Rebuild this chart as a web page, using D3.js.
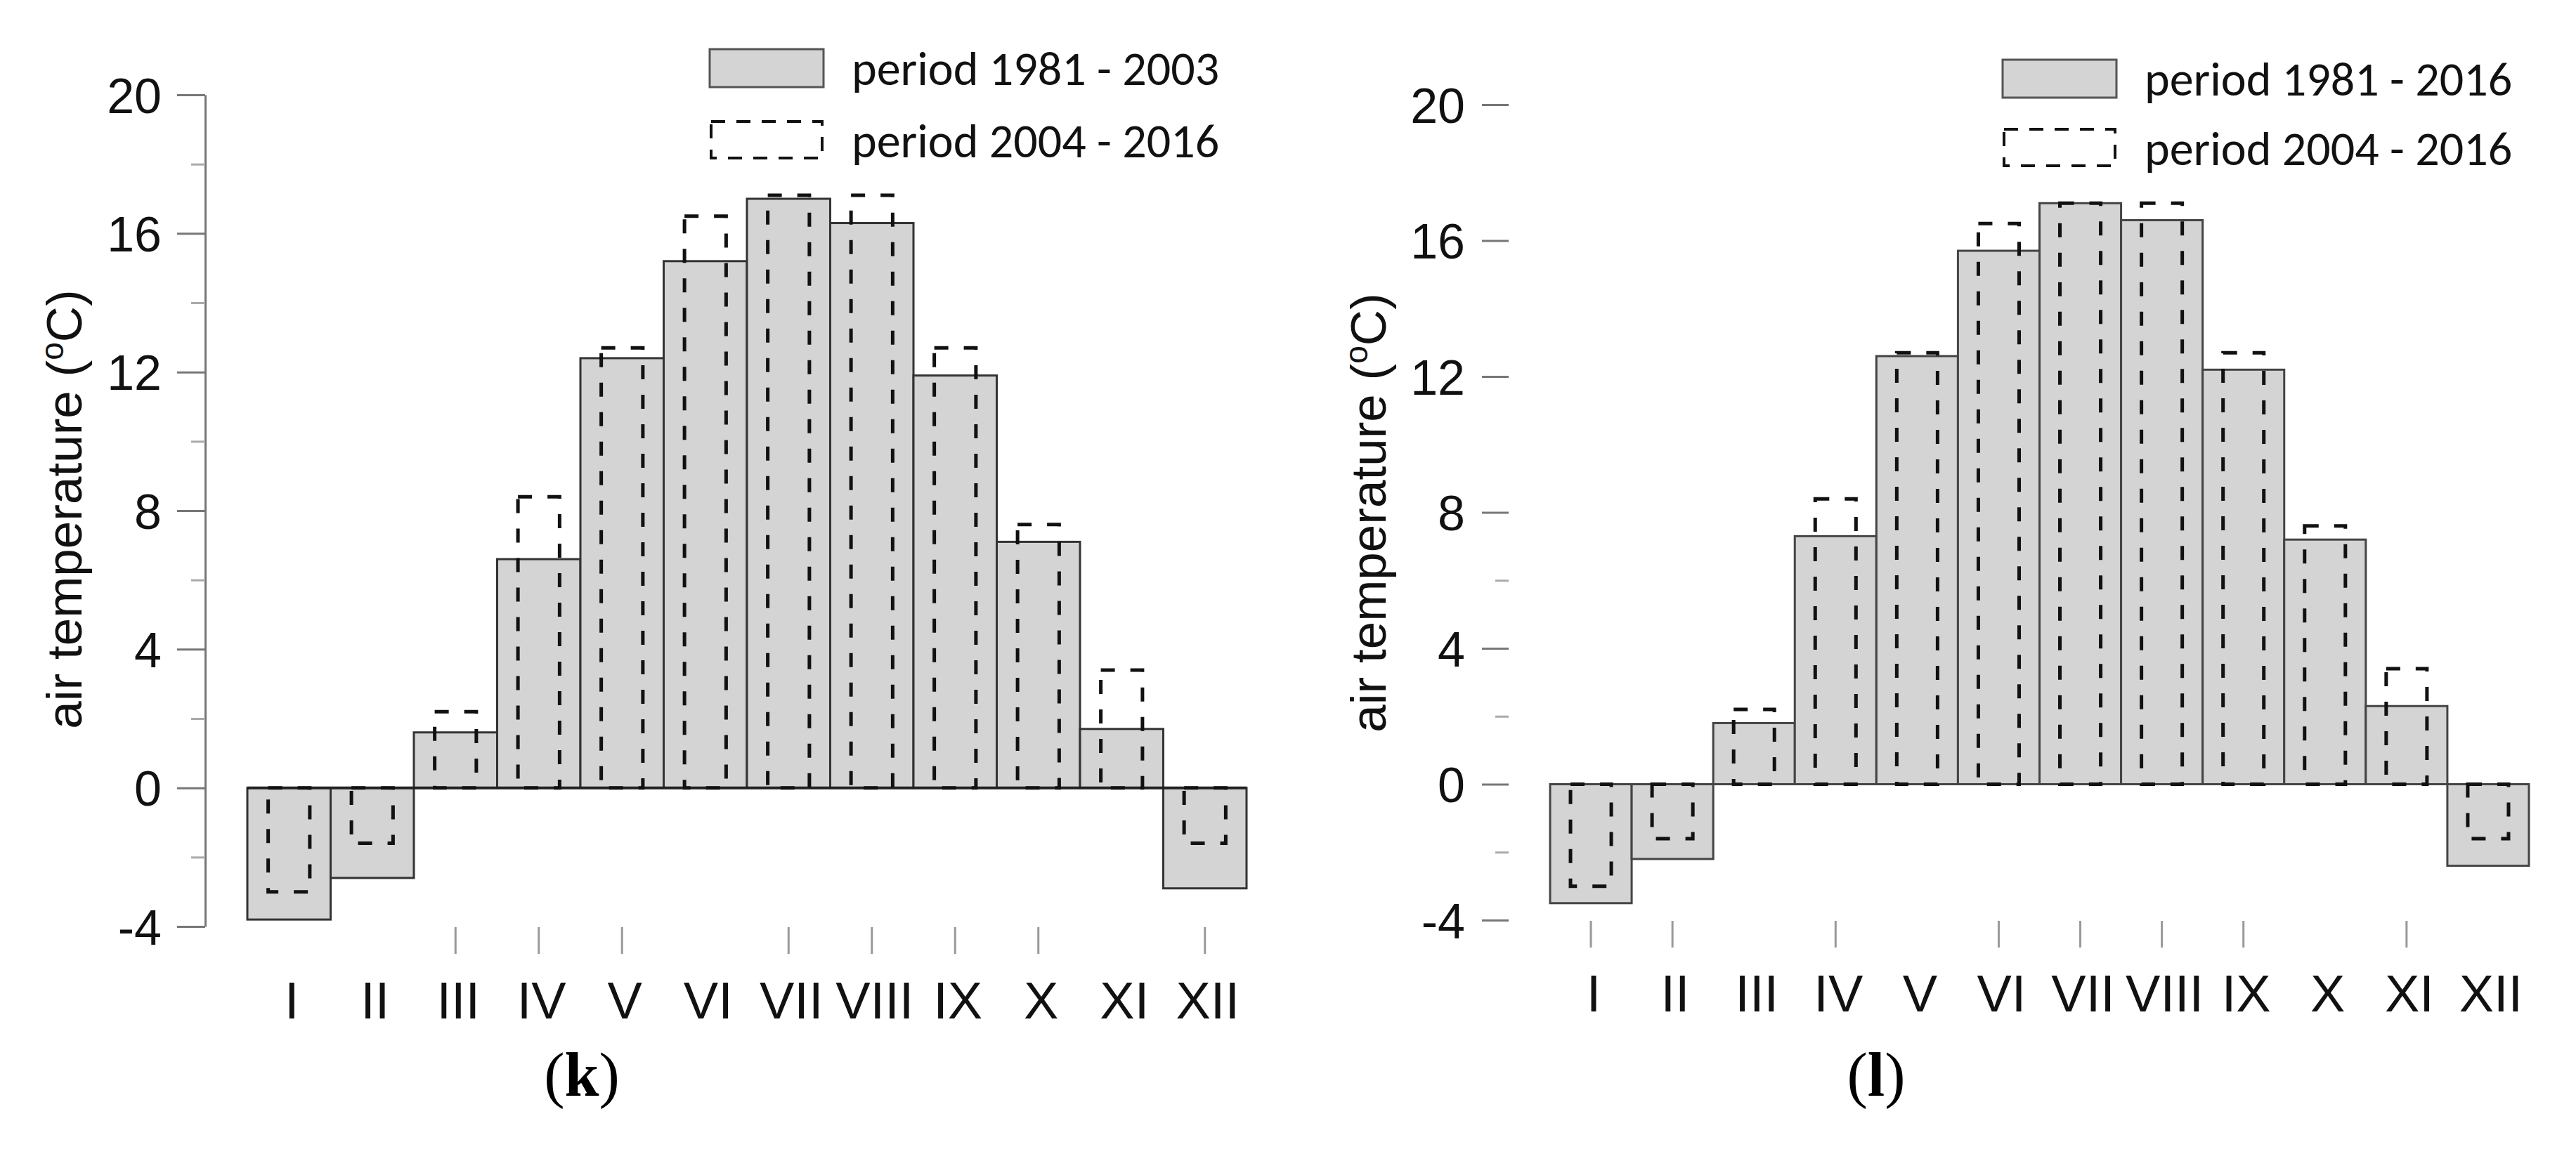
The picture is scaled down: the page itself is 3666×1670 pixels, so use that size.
<!DOCTYPE html>
<html>
<head>
<meta charset="utf-8">
<script src="https://cdn.jsdelivr.net/npm/d3@7"></script>
<style>
  body { margin: 0; background: #fff; }
  svg { display: block; }
</style>
</head>
<body>
<svg id="chart" width="3666" height="1670"></svg>
<script>
// monthly mean air temperature, two panels
var months = ["I", "II", "III", "IV", "V", "VI", "VII", "VIII", "IX", "X", "XI", "XII"];
var base8103 = [-3.8, -2.6, 1.6, 6.6, 12.4, 15.2, 17.0, 16.3, 11.9, 7.1, 1.7, -2.9];
var base8116 = [-3.5, -2.2, 1.8, 7.3, 12.6, 15.7, 17.1, 16.6, 12.2, 7.2, 2.3, -2.4];
var recent0416 = [-3.0, -1.6, 2.2, 8.4, 12.7, 16.5, 17.1, 17.1, 12.7, 7.6, 3.4, -1.6];
var yMajor = [-4, 0, 4, 8, 12, 16, 20];
var yMinorK = [-2, 2, 6, 10, 14, 18];
var yMinorL = [-2, 2, 6];
var legendK = ["period 1981 - 2003", "period 2004 - 2016"];
var legendL = ["period 1981 - 2016", "period 2004 - 2016"];
var monthTicksK = ["III", "IV", "V", "VII", "VIII", "IX", "X", "XII"];
var monthTicksL = ["I", "II", "IV", "VI", "VII", "VIII", "IX", "XI"];

var svg = d3.select("#chart");
var sans = "'Liberation Sans', Arial, sans-serif";
var legendFont = "Carlito, Lato, 'Open Sans', sans-serif";

function drawPanel(cfg){
	var g = svg.append("g");
	var x = d3.scaleBand().domain(months).range(cfg.xRange).paddingInner(0).paddingOuter(0);
	var y = d3.scaleLinear().domain([-4, 20]).range(cfg.yRange);

	// y axis, major + minor ticks (plain hyphen for minus, like the original)
	var yAxis = d3.axisLeft(y).tickValues(yMajor).tickSize(cfg.tickLen).tickSizeOuter(0).tickPadding(cfg.tickPad)
		.tickFormat(function(d){ return String(d); });
	var ya = g.append("g").attr("transform", "translate(" + cfg.axisX + ",0)").call(yAxis);
	ya.selectAll("text").attr("font-family", sans).attr("font-size", 70).attr("fill", "#111").attr("dy", "0.36em");
	ya.selectAll(".tick line").attr("stroke", "#777").attr("stroke-width", 3);
	if (cfg.axisLine) ya.select(".domain").attr("stroke", "#777").attr("stroke-width", 3);
	else ya.select(".domain").remove();

	var yMinorAxis = d3.axisLeft(y).tickValues(cfg.minor).tickSize(cfg.tickLen / 2).tickFormat("");
	var ym = g.append("g").attr("transform", "translate(" + cfg.axisX + ",0)").call(yMinorAxis);
	ym.select(".domain").remove();
	ym.selectAll(".tick line").attr("stroke", "#aaa").attr("stroke-width", 3);

	// solid bars
	g.selectAll(".bar").data(cfg.base).enter().append("rect")
		.attr("class", "bar")
		.attr("x", function(d, i){ return x(months[i]); })
		.attr("y", function(d){ return y(Math.max(0, d)); })
		.attr("width", x.bandwidth())
		.attr("height", function(d){ return Math.abs(y(d) - y(0)); })
		.attr("fill", "#d4d4d4")
		.attr("stroke", cfg.barStroke)
		.attr("stroke-width", 3);

	if (cfg.zeroLine) {
		g.append("line")
			.attr("x1", cfg.xRange[0]).attr("x2", cfg.xRange[1])
			.attr("y1", y(0)).attr("y2", y(0))
			.attr("stroke", "#222").attr("stroke-width", 4);
	}

	// dashed bars (2004 - 2016)
	var dw = x.bandwidth() * 0.5;
	g.selectAll(".dbar").data(recent0416).enter().append("rect")
		.attr("class", "dbar")
		.attr("x", function(d, i){ return x(months[i]) + (x.bandwidth() - dw) / 2; })
		.attr("y", function(d){ return y(Math.max(0, d)); })
		.attr("width", dw)
		.attr("height", function(d){ return Math.abs(y(d) - y(0)); })
		.attr("fill", "none")
		.attr("stroke", "#111")
		.attr("stroke-width", 5)
		.attr("stroke-dasharray", "20,22");

	// month ticks and labels
	g.selectAll(".mtick").data(cfg.monthTicks).enter().append("line")
		.attr("x1", function(m){ return x(m) + x.bandwidth() / 2; })
		.attr("x2", function(m){ return x(m) + x.bandwidth() / 2; })
		.attr("y1", cfg.yRange[0] + 1).attr("y2", cfg.yRange[0] + 39)
		.attr("stroke", "#999").attr("stroke-width", 3);

	g.selectAll(".mlabel").data(months).enter().append("text")
		.attr("x", function(m){ return x(m) + x.bandwidth() / 2 + 4; })
		.attr("y", cfg.labelY)
		.attr("text-anchor", "middle")
		.attr("font-family", sans).attr("font-size", 74).attr("fill", "#111")
		.text(function(m){ return m; });

	// y title
	var t = g.append("text")
		.attr("transform", "translate(" + cfg.titleX + "," + cfg.titleY + ") rotate(-90)")
		.attr("text-anchor", "middle")
		.attr("font-family", sans).attr("font-size", 71).attr("fill", "#111");
	t.append("tspan").text("air temperature (");
	t.append("tspan").attr("font-size", 46).attr("dy", -26).text("o");
	t.append("tspan").attr("dy", 26).text("C)");

	// legend
	var lg = g.append("g");
	lg.append("rect")
		.attr("x", cfg.legX).attr("y", cfg.legY[0])
		.attr("width", 162).attr("height", 54)
		.attr("fill", "#d4d4d4").attr("stroke", "#555").attr("stroke-width", 3);
	lg.append("rect")
		.attr("x", cfg.legX + 2).attr("y", cfg.legY[1])
		.attr("width", 158).attr("height", 52)
		.attr("fill", "none").attr("stroke", "#111").attr("stroke-width", 4).attr("stroke-dasharray", "20,16");
	lg.selectAll(".legtext").data(cfg.legend).enter().append("text")
		.attr("x", cfg.legX + 202)
		.attr("y", function(d, i){ return cfg.legY[i] + 27; })
		.attr("dy", "0.35em")
		.attr("font-family", legendFont).attr("font-size", 68).attr("fill", "#111")
		.text(function(d){ return d; });

	// panel letter
	var p = g.append("text")
		.attr("x", cfg.letterX).attr("y", 1560)
		.attr("text-anchor", "middle")
		.attr("font-family", "'Liberation Serif', 'Times New Roman', serif")
		.attr("font-size", 88).attr("fill", "#000");
	p.append("tspan").text("(");
	p.append("tspan").attr("font-weight", "bold").text(cfg.letter);
	p.append("tspan").text(")");
}

drawPanel({
	xRange: [352, 1774], yRange: [1319, 135], axisX: 292, axisLine: true,
	tickLen: 40, tickPad: 22, minor: yMinorK, base: base8103, barStroke: "#333",
	zeroLine: true, monthTicks: monthTicksK, labelY: 1450,
	titleX: 116, titleY: 725, legX: 1010, legY: [70, 173], legend: legendK,
	letterX: 828, letter: "k"
});

drawPanel({
	xRange: [2206, 3599], yRange: [1310, 149], axisX: 2147, axisLine: false,
	tickLen: 38, tickPad: 24, minor: yMinorL, base: base8116, barStroke: "#444",
	zeroLine: false, monthTicks: monthTicksL, labelY: 1440,
	titleX: 1972, titleY: 730, legX: 2850, legY: [85, 184], legend: legendL,
	letterX: 2670, letter: "l"
});
</script>
</body>
</html>
